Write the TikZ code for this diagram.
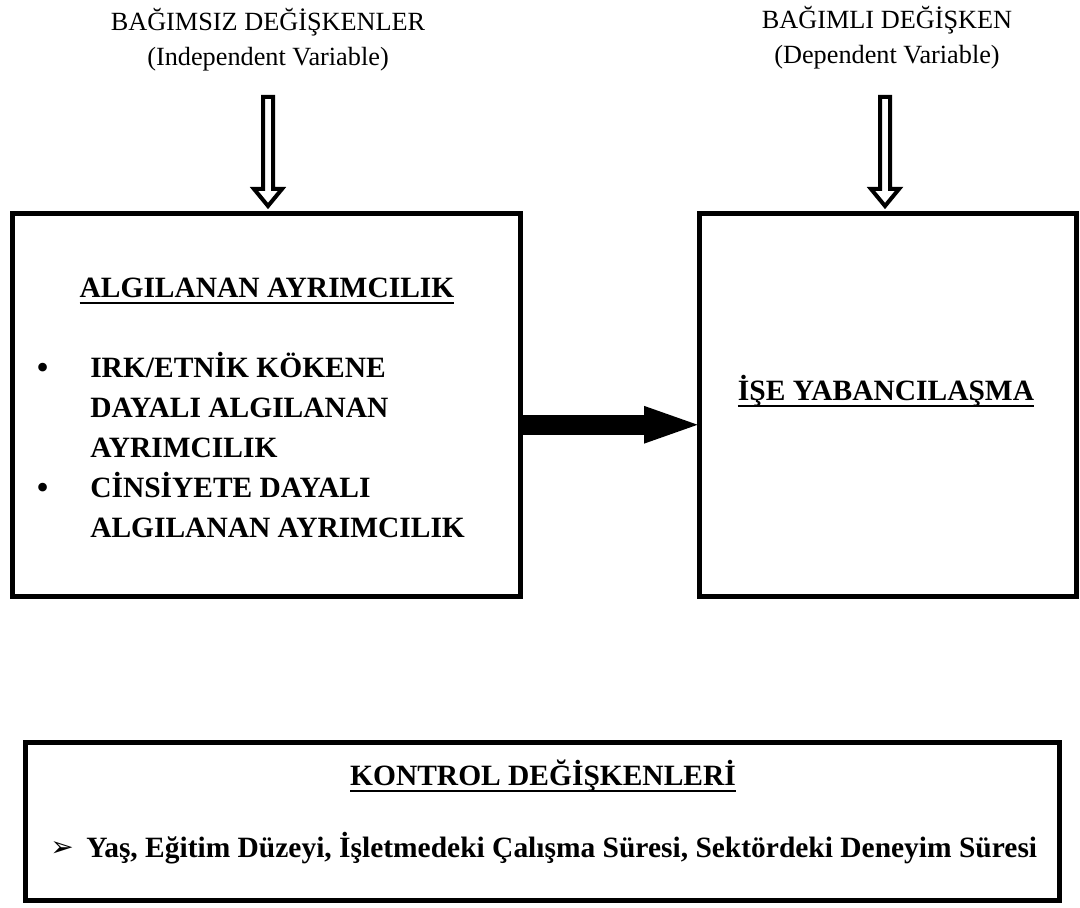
\documentclass[tikz,border=0pt]{standalone}
\usepackage{fontspec}
\setmainfont{Liberation Serif}
\newfontfamily\dejavu{DejaVu Sans}
\usetikzlibrary{arrows.meta,calc}
\newcommand\myul[1]{\setbox0\hbox{#1}\rlap{\rule[-5pt]{\wd0}{1.5pt}}\box0}
\newcommand\mybul{\raisebox{-1.5pt}{\fontsize{27}{30}\selectfont\mdseries\textbullet}}
\begin{document}
\begin{tikzpicture}[x=0.75pt,y=-0.75pt,
  box/.style={draw,line width=3.75pt,outer sep=0pt,inner sep=0pt},
  lbl/.style={font=\fontsize{19.7}{24}\selectfont,anchor=base,inner sep=0pt},
  bld/.style={font=\fontsize{22.1}{30}\selectfont\bfseries,inner sep=0pt},
  hollow/.style={draw,line width=3pt,fill=white,line join=miter},
  bigarrow/.style={line width=15pt,-{Triangle[length=45pt,width=24pt]}}]
\useasboundingbox (0,0) rectangle (1080,907);
% boxes
\node[box,minimum width=381pt,minimum height=286.9pt] (L) at (266.5,404.75) {};
\node[box,minimum width=282.4pt,minimum height=286.9pt] (R) at (887.75,404.75) {};
\node[box,minimum width=775.5pt,minimum height=118.5pt] (B) at (542.5,821.5) {};
% top labels
\node[lbl] (l1) at (268,30) {BAĞIMSIZ DEĞİŞKENLER};
\node[lbl] (l2) at (268,65) {(Independent Variable)};
\node[lbl] (r1) at (887,28) {BAĞIMLI DEĞİŞKEN};
\node[lbl] (r2) at (887,63) {(Dependent Variable)};
% hollow arrows
\draw[hollow] ($(L.north)+(1.5,-7.5)$) -- ++(14,-17) -- ++(-9,0) -- ++(0,-92) -- ++(-10,0) -- ++(0,92) -- ++(-9,0) -- cycle;
\draw[hollow] ($(R.north)+(-2.75,-7.5)$) -- ++(14,-17) -- ++(-9,0) -- ++(0,-92) -- ++(-10,0) -- ++(0,92) -- ++(-9,0) -- cycle;
% main arrow
\draw[bigarrow] ([yshift=-15pt]L.east) -- ([yshift=-15pt,xshift=3.5pt]R.west);
% left box text
\node[bld,anchor=base] (Lh) at (267,297) {\myul{ALGILANAN AYRIMCILIK}};
\node[bld,anchor=base west] (Ll) at (36,377) {\begin{tabular}[t]{@{}p{40.5pt}@{}l@{}}\mybul & IRK/ETNİK KÖKENE\\ & DAYALI ALGILANAN\\ & AYRIMCILIK\\ \mybul & CİNSİYETE DAYALI\\ & ALGILANAN AYRIMCILIK\end{tabular}};
% right box text
\node[bld,anchor=base] (Rt) at (886,400) {\myul{İŞE YABANCILAŞMA}};
% bottom box text
\node[bld,anchor=base] (Bh) at (543,785) {\myul{KONTROL DEĞİŞKENLERİ}};
\node[anchor=base west,font=\dejavu\fontsize{21}{21}\selectfont,inner sep=0pt] (Bm) at (50,856) {➢};
\node[bld,anchor=base west] (Bl) at (86,857) {Yaş, Eğitim Düzeyi, İşletmedeki Çalışma Süresi, Sektördeki Deneyim Süresi};
\end{tikzpicture}
\end{document}
